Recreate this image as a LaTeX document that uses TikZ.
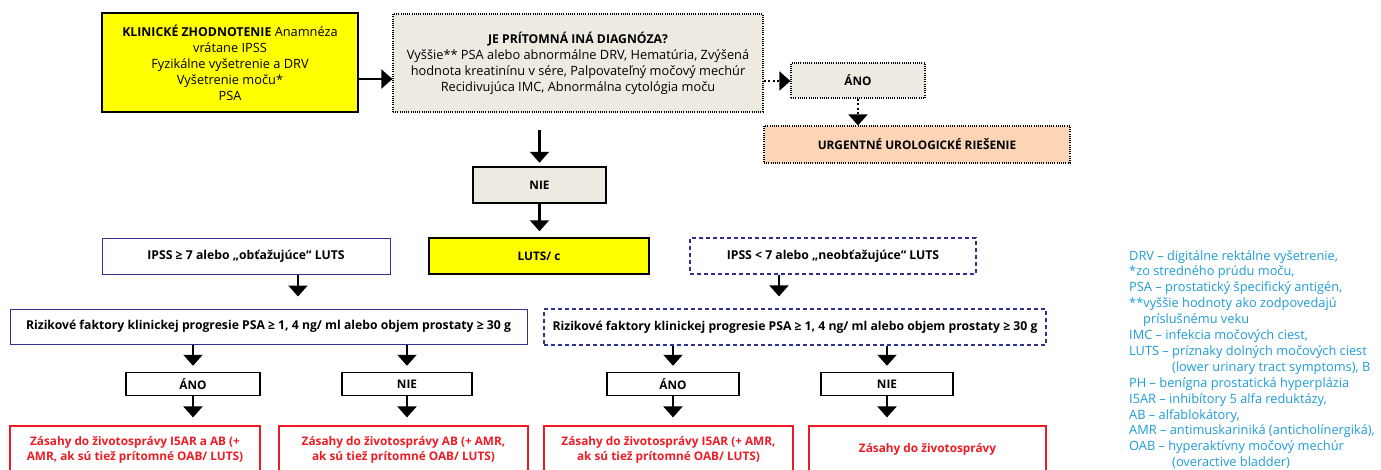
\documentclass[tikz,border=0pt]{standalone}
\usepackage{fontspec}
\setmainfont{Open Sans}
\usetikzlibrary{arrows.meta}
\definecolor{ylw}{HTML}{FFFF00}
\definecolor{gryfill}{HTML}{ECEAE1}
\definecolor{orgfill}{HTML}{FBD5B5}
\definecolor{navy}{HTML}{2E3192}
\definecolor{redc}{HTML}{ED1C24}
\definecolor{legc}{HTML}{1E9BD7}
\newcommand{\fs}{\fontsize{11.8}{16}\selectfont}
\newcommand{\fr}{\fontsize{12.8}{16}\selectfont}
\tikzset{
  box/.style={draw, line width=1pt, inner sep=0pt, align=center, font=\fs},
  yelbox/.style={box, fill=ylw, line width=1.8pt, font=\fr},
  dotbox/.style={box, fill=gryfill, dash pattern=on 1pt off 1.2pt, line width=1.2pt},
  nvbox/.style={box, draw=navy, line width=1pt, font=\fontsize{12.2}{16}\selectfont\bfseries},
  nvdash/.style={nvbox, dash pattern=on 4pt off 3pt, line width=1.2pt},
  smallbox/.style={box, line width=1.5pt, font=\fs\bfseries},
  redbox/.style={box, draw=redc, line width=1.2pt, text=redc, font=\fontsize{11.8}{15}\selectfont\bfseries},
  arr/.style={line width=2.2pt, -{Triangle[width=19pt,length=11pt]}},
  dotarr/.style={line width=2pt, dash pattern=on 2pt off 2.5pt, -{Triangle[width=19pt,length=11pt]}},
}
\begin{document}
\begin{tikzpicture}[x=1pt,y=-1pt]
\useasboundingbox (0,0) rectangle (1381,469);
\clip (0,0) rectangle (1381,469);

% top row
\node[yelbox, minimum width=256pt, minimum height=99pt] (klin) at (230,62.5)
  {\textbf{\fontsize{12.3}{16}\selectfont KLINICKÉ ZHODNOTENIE} Anamnéza\\ vrátane IPSS\\ Fyzikálne vyšetrenie a DRV\\ Vyšetrenie moču*\\ PSA};
\node[dotbox, minimum width=370pt, minimum height=98pt, font=\fr] (diag) at (578,63)
  {\textbf{\fontsize{12.2}{16}\selectfont JE PRÍTOMNÁ INÁ DIAGNÓZA?}\\ Vyššie** PSA alebo abnormálne DRV, Hematúria, Zvýšená\\ hodnota kreatinínu v sére, Palpovateľný močový mechúr\\ Recidivujúca IMC, Abnormálna cytológia moču};
\node[dotbox, minimum width=134pt, minimum height=35pt, font=\fs\bfseries] (ano1) at (858,80.5) {ÁNO};
\node[dotbox, fill=orgfill, minimum width=306pt, minimum height=37pt, font=\fs\bfseries] (urg) at (917,144.5) {URGENTNÉ UROLOGICKÉ RIEŠENIE};

\node[smallbox, fill=gryfill, minimum width=133pt, minimum height=36pt] (nie1) at (539.5,185) {NIE};
\node[smallbox, fill=ylw, minimum width=220pt, minimum height=36pt] (luts) at (539,256) {LUTS/ c};

\node[nvbox, minimum width=288pt, minimum height=36pt] (ipss1) at (246,256) {IPSS ≥ 7 alebo „obťažujúce“ LUTS};
\node[nvdash, minimum width=286pt, minimum height=36pt] (ipss2) at (833,256) {IPSS < 7 alebo „neobťažujúce“ LUTS};

\node[nvbox, minimum width=517pt, minimum height=35pt] (rf1) at (268.5,326.5) {Rizikové faktory klinickej progresie PSA ≥ 1, 4 ng/ ml alebo objem prostaty ≥ 30 g};
\node[nvdash, minimum width=502pt, minimum height=36pt] (rf2) at (795,327) {Rizikové faktory klinickej progresie PSA ≥ 1, 4 ng/ ml alebo objem prostaty ≥ 30 g};

\node[smallbox, minimum width=134pt, minimum height=23pt] (ano2) at (193,384) {ÁNO};
\node[smallbox, minimum width=130pt, minimum height=23pt] (nie2) at (407,384) {NIE};
\node[smallbox, minimum width=132pt, minimum height=23pt] (ano3) at (673,384) {ÁNO};
\node[smallbox, minimum width=132pt, minimum height=23pt] (nie4) at (887,384) {NIE};

\node[redbox, minimum width=250pt, minimum height=47pt] (red1) at (135,449.5) {Zásahy do životosprávy I5AR a AB (+\\ AMR, ak sú tiež prítomné OAB/ LUTS)};
\node[redbox, minimum width=249pt, minimum height=47pt] (red2) at (403.5,449.5) {Zásahy do životosprávy AB (+ AMR,\\ ak sú tiež prítomné OAB/ LUTS)};
\node[redbox, minimum width=249pt, minimum height=47pt] (red3) at (668.5,449.5) {Zásahy do životosprávy I5AR (+ AMR,\\ ak sú tiež prítomné OAB/ LUTS)};
\node[redbox, minimum width=237pt, minimum height=47pt] (red4) at (927.5,449.5) {Zásahy do životosprávy};

% legend
\node[anchor=north west, inner sep=0pt, align=left, text=legc, font=\fontsize{12.8}{15.9}\selectfont] (leg) at (1129,250)
{DRV – digitálne rektálne vyšetrenie,\\
*zo stredného prúdu moču,\\
PSA – prostatický špecifický antigén,\\
**vyššie hodnoty ako zodpovedajú\\
\hspace*{14pt}príslušnému veku\\
IMC – infekcia močových ciest,\\
LUTS – príznaky dolných močových ciest\\
\hspace*{43pt}(lower urinary tract symptoms), B\\
PH – benígna prostatická hyperplázia\\
I5AR – inhibítory 5 alfa reduktázy,\\
AB – alfablokátory,\\
AMR – antimuskariniká (anticholínergiká),\\
OAB – hyperaktívny močový mechúr\\
\hspace*{43pt}(overactive bladder)};

% connectors
\coordinate (ya) at (0,79);
\coordinate (yb) at (0,81);
\coordinate (c1) at (539.5,130);
\coordinate (xa) at (298,0);
\coordinate (xb) at (779,0);
\draw[arr] (klin.east |- ya) -- (diag.west |- ya);
\draw[dotarr] (diag.east |- yb) -- (ano1.west |- yb);
\draw[dotarr] (ano1.south) -- (ano1.south |- urg.north);
\draw[arr, shorten >=3.5pt] (c1) -- (c1 |- nie1.north);
\draw[arr, shorten >=6pt] (nie1.south) -- (nie1.south |- luts.north);
\draw[arr, shorten >=12pt] (ipss1.south -| xa) -- (rf1.north -| xa);
\draw[arr, shorten >=12pt] (ipss2.south -| xb) -- (rf2.north -| xb);
\draw[arr, shorten >=6pt] (rf1.south -| ano2) -- (ano2.north);
\draw[arr, shorten >=6pt] (rf1.south -| nie2) -- (nie2.north);
\draw[arr, shorten >=6pt] (rf2.south -| ano3) -- (ano3.north);
\draw[arr, shorten >=6pt] (rf2.south -| nie4) -- (nie4.north);
\draw[arr, shorten >=8pt] (ano2.south) -- (ano2.south |- red1.north);
\draw[arr, shorten >=8pt] (nie2.south) -- (nie2.south |- red2.north);
\draw[arr, shorten >=8pt] (ano3.south) -- (ano3.south |- red3.north);
\draw[arr, shorten >=8pt] (nie4.south) -- (nie4.south |- red4.north);
\end{tikzpicture}
\end{document}
